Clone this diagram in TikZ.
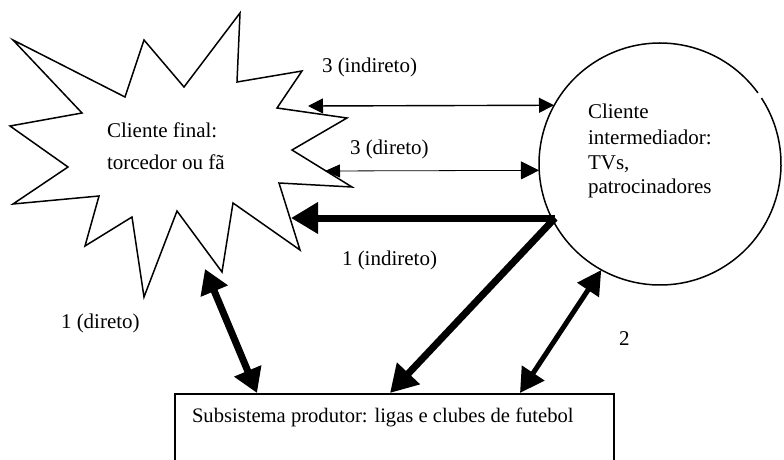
\documentclass[tikz,border=0pt]{standalone}
\usepackage{fontspec}
\setmainfont{Liberation Serif}
\usetikzlibrary{arrows.meta}
\begin{document}
\begin{tikzpicture}[x=1pt,y=-1pt,line join=miter]
\tikzset{
  outline/.style={draw=black,line width=1.5pt},
  txt/.style={font=\fontsize{21}{25}\selectfont,inner sep=0pt,outer sep=0pt},
  thinarrow/.style={line width=1.4pt,{Triangle[length=15pt,width=15pt]}-{Triangle[length=15pt,width=15pt]}},
  hairarrow/.style={line width=0.8pt,{Triangle[length=15pt,width=13pt]}-{Triangle[length=18pt,width=18pt]}},
  heavyarrow/.style={line width=7pt,-{Triangle[length=27pt,width=30pt]}},
  heavydouble/.style={line width=7pt,{Triangle[length=24pt,width=28pt]}-{Triangle[length=24pt,width=28pt]}},
  middouble/.style={line width=5pt,{Triangle[length=24pt,width=25pt]}-{Triangle[length=24pt,width=26pt]}}
}
\useasboundingbox (0,0) rectangle (784,460);
\fill[white] (0,0) rectangle (784,460);

% starburst: cliente final
\draw[outline] (13,40) -- (125,97) -- (144,40) -- (184,87) -- (240,13) -- (237,82)
  -- (302,71) -- (277,108) -- (347,118) -- (292,150) -- (352,187) -- (279,183)
  -- (300,250) -- (233,203) -- (222,272) -- (177,211) -- (144,297) -- (132,217)
  -- (85,246) -- (99,196) -- (13,204) -- (68,167) -- (10,126) -- (82,113) -- cycle;
\node[txt,anchor=base west] (fan) at (107,137) {Cliente final:};
\node[txt,anchor=base west] (fan2) at (107,169) {torcedor ou fã};

% circle: cliente intermediador
\node[circle,minimum size=242pt,inner sep=0pt] (ci) at (660,164) {};
\draw[outline] (660,164) ++(-33:121) arc[start angle=-33,end angle=324,radius=121];
\node[txt,anchor=base west] (ci1) at (588,118) {Cliente};
\node[txt,anchor=base west] (ci2) at (588,144) {intermediador:};
\node[txt,anchor=base west] (ci3) at (588,169) {TVs,};
\node[txt,anchor=base west] (ci4) at (588,193) {patrocinadores};

% box: subsistema produtor
\node[outline,rectangle,anchor=north west,minimum width=439pt,minimum height=80pt,inner sep=0pt] (box) at (174,393) {};
\node[txt,anchor=base west,font=\fontsize{20.6}{25}\selectfont] (boxtxt) at (192,422) {Subsistema produtor: ligas e clubes de futebol};

% end points
\coordinate (f1) at (308,106);
\coordinate (f2) at (325,171);
\coordinate (f3) at (291,218);
\coordinate (f4) at (205,269);
\coordinate (c0) at (555,218);
\coordinate (b1) at (257,393);
\coordinate (b2) at (390,393);
\coordinate (b3) at (520,393);

% connectors
\draw[thinarrow] (f1) -- (ci.151.5);
\draw[hairarrow] (f2) -- (ci.183.3);
\draw[heavyarrow] (c0) -- (f3);
\draw[heavyarrow] (c0) -- (b2);
\draw[heavydouble] (f4) -- (b1);
\draw[middouble] (ci.241.3) -- (b3);

% labels
\node[txt,anchor=base west] (l1) at (322,73) {3 (indireto)};
\node[txt,anchor=base west] (l2) at (350,154) {3 (direto)};
\node[txt,anchor=base west] (l3) at (342,265) {1 (indireto)};
\node[txt,anchor=base west] (l4) at (61,328) {1 (direto)};
\node[txt,anchor=base west] (l5) at (619,345) {2};
\end{tikzpicture}
\end{document}
